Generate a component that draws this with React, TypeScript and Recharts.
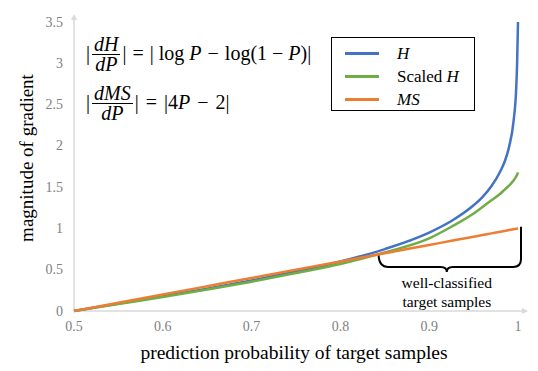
import React from 'react';
import { LineChart, Line, XAxis, YAxis, usePlotArea } from 'recharts';

const probs = [0.5, 0.55, 0.6, 0.65, 0.7, 0.75, 0.8, 0.85, 0.9, 0.925, 0.95, 0.96, 0.97, 0.98, 0.985, 0.99, 0.995, 0.998, 0.999, 1];
const hValues = [0, 0.09, 0.18, 0.27, 0.37, 0.48, 0.6, 0.75, 0.95, 1.09, 1.28, 1.38, 1.51, 1.69, 1.81, 1.99, 2.3, 2.7, 3.0, 3.5];
const scaledHValues = [0, 0.085, 0.17, 0.26, 0.355, 0.46, 0.57, 0.71, 0.88, 1.02, 1.18, 1.26, 1.34, 1.42, 1.47, 1.52, 1.58, 1.63, 1.65, 1.68];
const msValues = [0, 0.1, 0.2, 0.3, 0.4, 0.5, 0.6, 0.7, 0.8, 0.85, 0.9, 0.92, 0.94, 0.96, 0.97, 0.98, 0.99, 0.996, 0.998, 1];

const xTicks = [0.5, 0.6, 0.7, 0.8, 0.9, 1];
const yTicks = [0, 0.5, 1, 1.5, 2, 2.5, 3, 3.5];

const data = probs.map((p, i) => ({
  p,
  h: hValues[i],
  scaledH: scaledHValues[i],
  ms: msValues[i],
}));

const SERIF = '"Liberation Serif", "Times New Roman", serif';
const AXIS_GRAY = '#d9d9d9';
const TICK_GRAY = '#7f7f7f';

const legendItems = [
  { color: '#4472C4', label: <i>H</i> },
  { color: '#70AD47', label: <span>Scaled <i>H</i></span> },
  { color: '#ED7D31', label: <i>MS</i> },
];

function LegendBox() {
  return (
    <div
      style={{
        position: 'absolute',
        left: 331,
        top: 37,
        border: '1.5px solid #000',
        width: 144,
        height: 74,
        boxSizing: 'border-box',
        padding: '4px 0 0 13px',
        fontFamily: SERIF,
        fontSize: 17,
        background: '#fff',
      }}
    >
      {legendItems.map((it, i) => (
        <div key={i} style={{ display: 'flex', alignItems: 'center', height: 23 }}>
          <span style={{ display: 'inline-block', width: 34, height: 2.5, background: it.color, marginRight: 18 }} />
          <span>{it.label}</span>
        </div>
      ))}
    </div>
  );
}

function XTick(props: any) {
  const { x, y, payload } = props;
  return (
    <text x={x} y={y} dy={11} textAnchor="middle" fill={TICK_GRAY} style={{ fontFamily: SERIF, fontSize: 14 }}>
      {payload.value}
    </text>
  );
}

function YTick(props: any) {
  const { x, y, payload } = props;
  return (
    <text x={x} y={y} dy={4.5} textAnchor="end" fill={TICK_GRAY} style={{ fontFamily: SERIF, fontSize: 14 }}>
      {payload.value}
    </text>
  );
}

// arrows on axes and the brace, placed from the plot area
function Decorations() {
  const plot = usePlotArea();
  if (!plot) return null;
  const px = (p: number) => plot.x + ((p - 0.5) / 0.5) * plot.width;
  const py = (v: number) => plot.y + plot.height - (v / 3.5) * plot.height;
  const bottom = plot.y + plot.height;
  const left = plot.x;
  const right = plot.x + plot.width + 4;

  const x0 = px(0.843);
  const y0 = py(0.69);
  const x1 = px(1) + 3;
  const yTop = py(1.02);
  const yb = y0 + 13;
  const mid = (x0 + x1) / 2 - 3;
  const brace = `M ${x0} ${y0} Q ${x0} ${yb} ${x0 + 10} ${yb} L ${mid - 6} ${yb} Q ${mid} ${yb} ${mid} ${yb + 5} Q ${mid} ${yb} ${mid + 6} ${yb} L ${x1 - 8} ${yb} Q ${x1} ${yb} ${x1} ${yb - 8} L ${x1} ${yTop}`;
  const label = { fontFamily: SERIF, fontSize: 15.5 };

  return (
    <g>
      <line x1={left} y1={bottom} x2={right} y2={bottom} stroke={AXIS_GRAY} strokeWidth={1.5} />
      <path d={`M ${right + 6} ${bottom} L ${right} ${bottom - 3} L ${right} ${bottom + 3} Z`} fill={AXIS_GRAY} />
      <line x1={left} y1={bottom} x2={left} y2={plot.y - 2} stroke={AXIS_GRAY} strokeWidth={1.5} />
      <path d={`M ${left} ${plot.y - 8} L ${left - 3} ${plot.y - 2} L ${left + 3} ${plot.y - 2} Z`} fill={AXIS_GRAY} />
      <path d={brace} fill="none" stroke="#000" strokeWidth={2} />
      <text x={mid} y={yb + 21} textAnchor="middle" fill="#000" style={label}>
        well-classified
      </text>
      <text x={mid} y={yb + 40} textAnchor="middle" fill="#000" style={label}>
        target samples
      </text>
    </g>
  );
}

function Frac({ num, den }: { num: React.ReactNode; den: React.ReactNode }) {
  return (
    <span style={{ display: 'inline-flex', flexDirection: 'column', alignItems: 'center', margin: '0 2px' }}>
      <span style={{ lineHeight: '20px', padding: '0 2px' }}>{num}</span>
      <span style={{ lineHeight: '18px', borderTop: '1px solid #000', padding: '0 2px', alignSelf: 'stretch', textAlign: 'center' }}>{den}</span>
    </span>
  );
}

const op = (s: string, m = 6) => <span style={{ margin: `0 ${m}px` }}>{s}</span>;

function Formula({ top, children }: { top: number; children: React.ReactNode }) {
  return (
    <div
      style={{
        position: 'absolute',
        left: 86,
        top,
        height: 40,
        display: 'flex',
        alignItems: 'center',
        fontFamily: SERIF,
        fontSize: 20,
        whiteSpace: 'pre',
      }}
    >
      {children}
    </div>
  );
}

export default function App() {
  return (
    <div style={{ position: 'absolute', top: 0, left: 0, width: 538, height: 371, background: '#fff', fontFamily: SERIF }}>
      <LineChart width={538} height={371} data={data} margin={{ top: 22, right: 20, left: 0, bottom: 0 }}>
        <XAxis
          dataKey="p"
          type="number"
          domain={[0.5, 1]}
          ticks={xTicks}
          tickLine={false}
          axisLine={false}
          tickSize={0}
          tickMargin={9}
          height={60}
          tick={<XTick />}
        />
        <YAxis
          type="number"
          domain={[0, 3.5]}
          ticks={yTicks}
          tickLine={false}
          axisLine={false}
          tickSize={0}
          tickMargin={11}
          width={74}
          tick={<YTick />}
        />
        <Line type="monotone" dataKey="h" stroke="#4472C4" strokeWidth={2.5} dot={false} isAnimationActive={false} />
        <Line type="monotone" dataKey="scaledH" stroke="#70AD47" strokeWidth={2.5} dot={false} isAnimationActive={false} />
        <Line type="monotone" dataKey="ms" stroke="#ED7D31" strokeWidth={2.5} dot={false} isAnimationActive={false} />
        <Decorations />
      </LineChart>

      <LegendBox />

      <Formula top={33}>
        <span>|</span>
        <Frac num={<i>dH</i>} den={<i>dP</i>} />
        <span>|</span>
        {op('=', 6)}
        <span>| log </span>
        <i>P</i>
        {op('−', 6)}
        <span>log(1</span>
        {op('−', 5)}
        <i>P</i>
        <span>)|</span>
      </Formula>
      <Formula top={82}>
        <span>|</span>
        <Frac num={<i>dMS</i>} den={<i>dP</i>} />
        <span>|</span>
        {op('=', 7)}
        <span>|4</span>
        <i>P</i>
        {op('−', 7)}
        <span>2|</span>
      </Formula>

      <div
        style={{
          position: 'absolute',
          left: 27,
          top: 158,
          transform: 'translate(-50%, -50%) rotate(-90deg)',
          fontFamily: SERIF,
          fontSize: 19,
          whiteSpace: 'nowrap',
        }}
      >
        magnitude of gradient
      </div>
      <div
        style={{
          position: 'absolute',
          left: 294,
          top: 353,
          transform: 'translate(-50%, -50%)',
          fontFamily: SERIF,
          fontSize: 19.5,
          whiteSpace: 'nowrap',
        }}
      >
        prediction probability of target samples
      </div>
    </div>
  );
}
